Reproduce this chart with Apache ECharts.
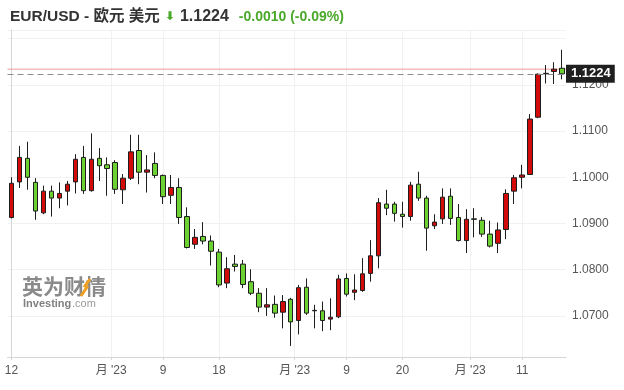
<!DOCTYPE html>
<html><head><meta charset="utf-8">
<script src="https://cdn.jsdelivr.net/npm/echarts@6/dist/echarts.min.js"></script>
<style>html,body{margin:0;padding:0;background:#fff}#c{width:624px;height:390px}</style>
</head><body><div id="c"></div>
<script>
// trading days 12 Apr 2023 .. 18 Jul 2023 (index 0..69)
const opens  = [1.0913,1.0990,1.1041,1.0989,1.0923,1.0970,1.0955,1.0970,1.0990,1.1043,
                1.0971,1.1041,1.1027,1.1032,1.0973,1.0998,1.1058,1.1011,1.1030,1.1004,
                1.0961,1.0978,1.0915,1.0855,1.0872,1.0862,1.0838,1.0771,1.0812,1.0812,
                1.0774,1.0749,1.0719,1.0725,1.0708,1.0736,1.0690,1.0762,1.0712,1.0711,
                1.0693,1.0698,1.0781,1.0751,1.0755,1.0792,1.0830,1.0942,1.0942,1.0920,
                1.0915,1.0985,1.0955,1.0895,1.0910,1.0959,1.0913,1.0863,1.0910,1.0907,
                1.0877,1.0857,1.0887,1.0970,1.1000,1.1006,1.1130,1.1225,1.1229,1.1236];
const closes = [1.0987,1.1043,1.1000,1.0927,1.0970,1.0955,1.0965,1.0985,1.1039,1.0971,
                1.1039,1.1025,1.1019,1.0974,1.0998,1.1055,1.1011,1.1016,1.1004,1.0958,
                1.0978,1.0913,1.0848,1.0870,1.0862,1.0840,1.0767,1.0802,1.0807,1.0768,
                1.0749,1.0719,1.0724,1.0706,1.0731,1.0687,1.0761,1.0706,1.0711,1.0690,
                1.0697,1.0780,1.0747,1.0756,1.0791,1.0830,1.0945,1.0933,1.0922,1.0915,
                1.0983,1.0955,1.0890,1.0903,1.0957,1.0911,1.0863,1.0909,1.0909,1.0877,
                1.0851,1.0886,1.0965,1.0999,1.1005,1.1126,1.1223,1.1224,1.1234,1.1224];
const lows   = [1.0911,1.0977,1.0973,1.0908,1.0920,1.0915,1.0933,1.0939,1.0965,1.0964,
                1.0969,1.0992,1.0960,1.0964,1.0942,1.0994,1.0985,1.0967,1.0998,1.0942,
                1.0942,1.0899,1.0846,1.0845,1.0855,1.0809,1.0762,1.0760,1.0796,1.0760,
                1.0745,1.0708,1.0700,1.0696,1.0673,1.0635,1.0660,1.0702,1.0673,1.0667,
                1.0669,1.0695,1.0742,1.0734,1.0752,1.0774,1.0803,1.0918,1.0904,1.0891,
                1.0906,1.0949,1.0841,1.0888,1.0899,1.0897,1.0861,1.0836,1.0870,1.0871,
                1.0848,1.0836,1.0866,1.0942,1.0976,1.1005,1.1128,1.1203,1.1202,1.1212];
const highs  = [1.1000,1.1068,1.1077,1.0998,1.0982,1.0982,1.0989,1.0992,1.1050,1.1068,
                1.1095,1.1063,1.1043,1.1037,1.1007,1.1092,1.1092,1.1048,1.1054,1.1006,
                1.1005,1.0998,1.0935,1.0888,1.0903,1.0874,1.0845,1.0827,1.0832,1.0821,
                1.0801,1.0760,1.0760,1.0744,1.0745,1.0739,1.0767,1.0781,1.0724,1.0731,
                1.0738,1.0789,1.0792,1.0790,1.0825,1.0864,1.0955,1.0973,1.0947,1.0947,
                1.0990,1.1012,1.0960,1.0920,1.0976,1.0976,1.0942,1.0931,1.0933,1.0914,
                1.0906,1.0902,1.0974,1.1005,1.1027,1.1137,1.1225,1.1243,1.1249,1.1276];
const dayIndex = opens.map((_, i) => String(i));
// x-axis tick positions (in trading-day index units) and their labels
const xTickPos    = [0, 12.5, 19, 26, 35.5, 42, 49, 57.5, 64];
const xTickLabels = ['12', "月 '23", '9', '18', "月 '23", '9', '20', "月 '23", '11'];
const yTickLabels = ['1.0700','1.0800','1.0900','1.1000','1.1100','1.1200'];
const yRange = [1.0611, 1.13188];
const lastPrice = closes[closes.length - 1];
const prevClose = closes[closes.length - 2];
const titleName = 'EUR/USD - 欧元 美元';

const change = lastPrice - prevClose;
const pct = change / prevClose * 100;
const changeText = (change < 0 ? '-' : '+') + Math.abs(change).toFixed(4) +
  ' (' + (pct < 0 ? '-' : '+') + Math.abs(pct).toFixed(2) + '%)';

const candleData = opens.map((o, i) => [o, closes[i], lows[i], highs[i]]);
const xSpan = [-0.5, dayIndex.length - 0.5];
const FONT = '"Liberation Sans", Arial, "Noto Sans CJK SC", sans-serif';

const chart = echarts.init(document.getElementById('c'), null, {renderer: 'canvas'});
chart.setOption({
  animation: false,
  backgroundColor: '#ffffff',
  title: {
    left: 5, top: 3,
    text: '{n|' + titleName + '} {a|⬇} {p|' + lastPrice.toFixed(4) + '}  {c|' + changeText + '}',
    textStyle: {
      rich: {
        n: {fontSize: 15.5, color: '#333', fontFamily: FONT},
        a: {fontSize: 12, color: '#4aa82b', fontFamily: '"DejaVu Sans", sans-serif'},
        p: {fontSize: 16, color: '#333', fontWeight: 'bold', fontFamily: FONT},
        c: {fontSize: 14, color: '#4aa82b', fontWeight: 'bold', fontFamily: FONT}
      }
    }
  },
  graphic: [{
    type: 'group', left: 22, top: 276, silent: true,
    children: [
      {type: 'text', x: 0, y: 0, style: {text: '英为财情', font: 'bold 21px "Noto Sans CJK SC"', fill: '#8a8a8a'}},
      {type: 'polyline', shape: {points: [[59, 20], [65, 11], [63, 10], [68, 3]]}, style: {stroke: '#f0a020', lineWidth: 3, fill: null}},
      {type: 'text', x: 1, y: 22, style: {text: 'Investing', font: 'bold 11px "Liberation Sans"', fill: '#808080'}},
      {type: 'text', x: 50, y: 22, style: {text: '.com', font: '11px "Liberation Sans"', fill: '#9a9a9a'}}
    ]
  }],
  grid: {left: 7.5, right: 58, top: 30, bottom: 33},
  xAxis: [{
    type: 'category', data: dayIndex, boundaryGap: true,
    axisLine: {show: false}, axisTick: {show: false}, axisLabel: {show: false}, splitLine: {show: false}
  }, {
    type: 'value', min: xSpan[0], max: xSpan[1], position: 'bottom',
    axisLine: {show: true, lineStyle: {color: '#d6d6d6'}},
    axisTick: {show: true, customValues: xTickPos, length: 3, lineStyle: {color: '#d6d6d6'}},
    axisLabel: {
      customValues: xTickPos, margin: 8, color: '#555', fontSize: 12, fontFamily: FONT,
      formatter: v => { const k = xTickPos.indexOf(v); return k >= 0 ? xTickLabels[k] : ''; }
    },
    splitLine: {show: true, lineStyle: {color: '#f1f1f1'}}
  }],
  yAxis: {
    type: 'value', position: 'right', scale: true,
    min: yRange[0], max: yRange[1], splitNumber: 7,
    axisLine: {show: true, lineStyle: {color: '#d6d6d6'}},
    axisTick: {show: false},
    axisLabel: {
      margin: 6, color: '#555', fontSize: 12, fontFamily: FONT,
      showMinLabel: false, showMaxLabel: false,
      formatter: v => { const s = v.toFixed(4); return yTickLabels.indexOf(s) >= 0 ? s : ''; }
    },
    splitLine: {show: true, lineStyle: {color: '#f1f1f1'}}
  },
  series: [{
    // previous close reference line (pink)
    type: 'line', xAxisIndex: 1, yAxisIndex: 0, silent: true, z: 1,
    data: [[xSpan[0], prevClose], [xSpan[1], prevClose]],
    symbol: 'none', lineStyle: {color: '#f39a9a', width: 1, type: 'solid'}, itemStyle: {color: '#f39a9a'}
  }, {
    type: 'candlestick', xAxisIndex: 0, yAxisIndex: 0, z: 2,
    data: candleData, barWidth: 5,
    itemStyle: {color: '#d20a0a', color0: '#6cd232', borderColor: '#1e1e1e', borderColor0: '#1e1e1e', borderWidth: 1},
    markLine: {
      silent: true, symbol: ['none', 'none'], animation: false, precision: 4,
      lineStyle: {color: '#8c8c8c', type: [6, 4], width: 1},
      label: {show: true, position: 'end', distance: 0, formatter: lastPrice.toFixed(4),
              backgroundColor: '#1f1f1f', color: '#fff', fontSize: 13, fontWeight: 'bold',
              fontFamily: FONT, padding: [3, 4, 2, 5]},
      data: [{yAxis: lastPrice}]
    }
  }]
});
</script></body></html>
